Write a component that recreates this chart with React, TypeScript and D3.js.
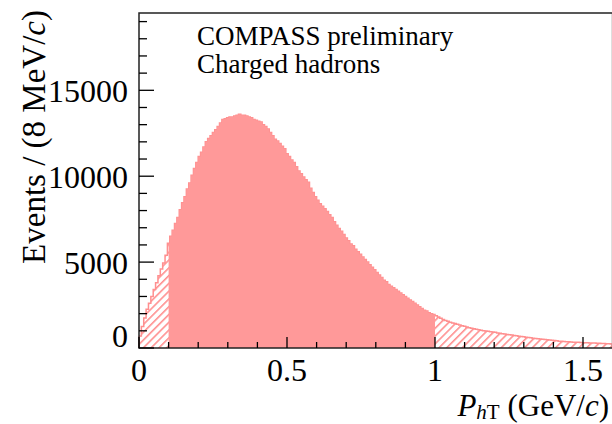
import React, { useEffect, useRef } from 'react';
import * as d3 from 'd3';

// histogram of P_hT, 8 MeV/c bins from 0 to 1.6 GeV/c
const binWidth = 0.008;
const counts = [
  700, 1250, 1750, 2250, 2600, 3000, 3400, 3800, 4200, 4600,
  4950, 5400, 6100, 6500, 6850, 7250, 7600, 8050, 8450, 8800,
  9250, 9600, 10050, 10450, 10800, 11150, 11400, 11700, 12000, 12200,
  12350, 12550, 12700, 12900, 13100, 13300, 13350, 13400, 13450, 13450,
  13500, 13550, 13600, 13550, 13550, 13500, 13450, 13400, 13300, 13250,
  13200, 13150, 13000, 12900, 12750, 12550, 12350, 12150, 12050, 11900,
  11750, 11600, 11300, 11150, 10950, 10800, 10550, 10300, 10150, 9950,
  9800, 9650, 9300, 9050, 8800, 8600, 8400, 8250, 8100, 7950,
  7750, 7600, 7350, 7150, 6950, 6800, 6600, 6400, 6250, 6050,
  5950, 5750, 5600, 5450, 5300, 5150, 5000, 4850, 4700, 4550,
  4400, 4250, 4100, 3950, 3850, 3700, 3600, 3500, 3400, 3300,
  3200, 3100, 3000, 2900, 2800, 2700, 2600, 2500, 2400, 2300,
  2200, 2150, 2050, 2000, 1950, 1880, 1800, 1730, 1660, 1600,
  1550, 1500, 1460, 1420, 1380, 1340, 1300, 1260, 1220, 1180,
  1150, 1120, 1090, 1060, 1030, 1010, 990, 970, 950, 930,
  910, 880, 860, 830, 810, 790, 770, 750, 730, 710,
  690, 670, 650, 630, 610, 590, 570, 560, 540, 520,
  505, 490, 475, 460, 445, 430, 415, 400, 390, 380,
  370, 360, 350, 340, 335, 330, 320, 310, 305, 300,
  295, 290, 285, 275, 270, 265, 255, 250, 245, 240
];
const solidRange = [0.1, 1.0];
const xMajor = [0, 0.5, 1, 1.5];
const xLabels = ['0', '0.5', '1', '1.5'];
const yMajor = [0, 5000, 10000, 15000];
const yLabels = ['0', '5000', '10000', '15000'];
const textLines = ['COMPASS preliminary', 'Charged hadrons'];

const W = 612;
const H = 424;
const fillCol = '#ff9999';
const lineCol = '#ff8f8f';

export default function App() {
  const svgRef = useRef<SVGSVGElement>(null);

  useEffect(() => {
    const svg = d3.select(svgRef.current);
    svg.selectAll('*').remove();

    const x = d3.scaleLinear().domain([0, 1.6]).range([139, 612.6]);
    const y = d3.scaleLinear().domain([0, 19500]).range([348, 13]);

    const pts = counts.map((c, i) => ({ x: i * binWidth, c }));
    pts.push({ x: counts.length * binWidth, c: counts[counts.length - 1] });

    const area = d3.area<{ x: number; c: number }>()
      .x(d => x(d.x))
      .y0(y(0))
      .y1(d => y(d.c))
      .curve(d3.curveStepAfter);
    const line = d3.line<{ x: number; c: number }>()
      .x(d => x(d.x))
      .y(d => y(d.c))
      .curve(d3.curveStepAfter);

    const defs = svg.append('defs');
    const pat = defs.append('pattern')
      .attr('id', 'hatch')
      .attr('patternUnits', 'userSpaceOnUse')
      .attr('width', 5.5)
      .attr('height', 5.5)
      .attr('patternTransform', 'rotate(45)');
    pat.append('line')
      .attr('x1', 0.8).attr('y1', 0).attr('x2', 0.8).attr('y2', 5.5)
      .attr('stroke', lineCol).attr('stroke-width', 1.6);
    defs.append('clipPath').attr('id', 'solidClip')
      .append('rect')
      .attr('x', x(solidRange[0]))
      .attr('y', 0)
      .attr('width', x(solidRange[1]) - x(solidRange[0]))
      .attr('height', H);

    // hatched full histogram
    svg.append('path')
      .attr('d', area(pts))
      .attr('fill', 'url(#hatch)');
    svg.append('path')
      .attr('d', line(pts))
      .attr('fill', 'none')
      .attr('stroke', lineCol)
      .attr('stroke-width', 1.5);
    svg.append('line')
      .attr('x1', x(0)).attr('x2', x(0))
      .attr('y1', y(0)).attr('y2', y(counts[0]))
      .attr('stroke', lineCol).attr('stroke-width', 1.5);

    // solid selection
    svg.append('path')
      .attr('d', area(pts))
      .attr('fill', fillCol)
      .attr('clip-path', 'url(#solidClip)');

    // frame
    svg.append('rect')
      .attr('x', x(0)).attr('y', y(19500))
      .attr('width', x(1.6) - x(0)).attr('height', y(0) - y(19500))
      .attr('fill', 'none').attr('stroke', '#222').attr('stroke-width', 1.5);

    // ticks
    const g = svg.append('g').attr('stroke', '#000').attr('stroke-width', 1.3);
    d3.range(0, 16).forEach(i => {
      const v = i / 10;
      const major = i % 5 === 0;
      g.append('line')
        .attr('x1', x(v)).attr('x2', x(v))
        .attr('y1', y(0)).attr('y2', y(0) - (major ? 11 : 6));
    });
    d3.range(0, 20).forEach(i => {
      const v = i * 1000;
      const major = i % 5 === 0;
      g.append('line')
        .attr('x1', x(0)).attr('x2', x(0) + (major ? 15 : 8))
        .attr('y1', y(v)).attr('y2', y(v));
    });

    const font = "'Liberation Serif', 'Times New Roman', serif";
    svg.selectAll('text.xl')
      .data(xMajor)
      .join('text')
      .attr('class', 'xl')
      .attr('x', d => x(d))
      .attr('y', 381)
      .attr('text-anchor', 'middle')
      .attr('font-family', font)
      .attr('font-size', 32)
      .text((d, i) => xLabels[i]);
    svg.selectAll('text.yl')
      .data(yMajor)
      .join('text')
      .attr('class', 'yl')
      .attr('x', 128)
      .attr('y', d => (d === 0 ? y(d) - 1 : y(d) + 12))
      .attr('text-anchor', 'end')
      .attr('font-family', font)
      .attr('font-size', 32)
      .text((d, i) => yLabels[i]);

    // axis titles
    const yt = svg.append('text')
      .attr('transform', 'translate(45,10) rotate(-90)')
      .attr('text-anchor', 'end')
      .attr('font-family', font)
      .attr('font-size', 33);
    yt.append('tspan').text('Events / (8 MeV/');
    yt.append('tspan').attr('font-style', 'italic').text('c');
    yt.append('tspan').text(')');

    const xt = svg.append('text')
      .attr('x', 609)
      .attr('y', 416)
      .attr('text-anchor', 'end')
      .attr('font-family', font)
      .attr('font-size', 31);
    xt.append('tspan').attr('font-style', 'italic').text('P');
    xt.append('tspan').attr('font-style', 'italic').attr('font-size', 21).attr('dy', 3).text('h');
    xt.append('tspan').attr('font-size', 21).text('T');
    xt.append('tspan').attr('dy', -3).text(' (GeV/');
    xt.append('tspan').attr('font-style', 'italic').text('c');
    xt.append('tspan').text(')');

    svg.selectAll('text.note')
      .data(textLines)
      .join('text')
      .attr('class', 'note')
      .attr('x', 197)
      .attr('y', (d, i) => 45 + i * 28)
      .attr('font-family', font)
      .attr('font-size', 27)
      .text(d => d);
  }, []);

  return (
    <svg
      ref={svgRef}
      width={W}
      height={H}
      style={{ position: 'absolute', left: 0, top: 0, background: '#fff' }}
    />
  );
}
